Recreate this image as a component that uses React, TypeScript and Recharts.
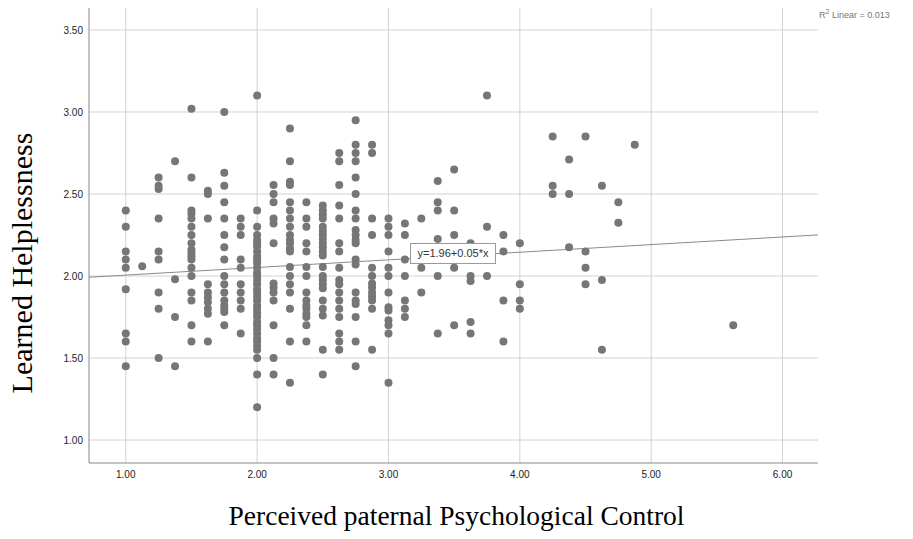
import React from "react";
import {
  ScatterChart,
  Scatter,
  XAxis,
  YAxis,
  CartesianGrid,
  ReferenceLine,
} from "recharts";

// Perceived paternal psychological control (x) columns and the Learned Helplessness values (y) read at each
const xColumns: number[] = [
  1.0, 1.125, 1.25, 1.375, 1.5, 1.625, 1.75, 1.875, 2.0, 2.125, 2.25, 2.375, 2.5, 2.625, 2.75, 2.875, 3.0,
  3.125, 3.25, 3.375, 3.5, 3.625, 3.75, 3.875, 4.0, 4.25, 4.375, 4.5, 4.625, 4.75, 4.875, 5.625,
];

const col100 = [2.4, 2.3, 2.15, 2.1, 2.05, 1.92, 1.65, 1.6, 1.45];
const col1125 = [2.06];
const col125 = [2.6, 2.55, 2.53, 2.35, 2.15, 2.1, 1.9, 1.8, 1.5];
const col1375 = [2.7, 1.98, 1.75, 1.45];
const col150 = [3.02, 2.6, 2.4, 2.38, 2.35, 2.3, 2.25, 2.2, 2.16, 2.14, 2.12, 2.1, 2.05, 2.0, 1.9, 1.85, 1.7, 1.6];
const col1625 = [2.52, 2.5, 2.35, 1.95, 1.9, 1.87, 1.84, 1.8, 1.77, 1.6];
const col175 = [3.0, 2.63, 2.55, 2.45, 2.35, 2.25, 2.175, 2.1, 2.0, 1.95, 1.9, 1.85, 1.82, 1.8, 1.78, 1.7];
const col1875 = [2.35, 2.3, 2.25, 2.1, 2.05, 1.95, 1.9, 1.85, 1.8, 1.65];
const col200 = [
  3.1, 2.4, 2.3, 2.25, 2.22, 2.2, 2.18, 2.15, 2.12, 2.1, 2.08, 2.05, 2.02, 2.0, 1.975, 1.95, 1.92, 1.9, 1.875,
  1.85, 1.82, 1.8, 1.775, 1.75, 1.72, 1.7, 1.675, 1.65, 1.62, 1.6, 1.575, 1.55, 1.5, 1.4, 1.2,
];
const col2125 = [2.555, 2.5, 2.45, 2.35, 2.32, 2.2, 1.955, 1.93, 1.9, 1.85, 1.7, 1.5, 1.4];
const col225 = [2.9, 2.7, 2.575, 2.555, 2.45, 2.4, 2.35, 2.3, 2.25, 2.22, 2.2, 2.17, 2.15, 2.055, 2.0, 1.95, 1.9, 1.8, 1.6, 1.35];
const col2375 = [2.45, 2.35, 2.3, 2.2, 2.15, 2.055, 2.0, 1.9, 1.85, 1.82, 1.8, 1.77, 1.75, 1.7, 1.6];
const col250 = [
  2.43, 2.4, 2.375, 2.35, 2.3, 2.275, 2.25, 2.225, 2.2, 2.175, 2.15, 2.125, 2.055, 2.0, 1.975, 1.95, 1.925, 1.85,
  1.8, 1.76, 1.55, 1.4,
];
const col2625 = [2.75, 2.7, 2.555, 2.43, 2.35, 2.2, 2.15, 2.05, 1.975, 1.95, 1.9, 1.85, 1.8, 1.75, 1.65, 1.6, 1.55];
const col275 = [2.95, 2.8, 2.75, 2.7, 2.6, 2.5, 2.4, 2.35, 2.28, 2.25, 2.22, 2.2, 2.1, 2.07, 1.9, 1.85, 1.83, 1.75, 1.6, 1.45];
const col2875 = [2.8, 2.75, 2.35, 2.25, 2.05, 2.0, 1.955, 1.93, 1.9, 1.875, 1.85, 1.8, 1.55];
const col300 = [2.35, 2.3, 2.25, 2.15, 2.05, 2.0, 1.9, 1.81, 1.79, 1.73, 1.7, 1.65, 1.35];
const col3125 = [2.32, 2.25, 2.1, 2.0, 1.85, 1.8, 1.75];
const col325 = [2.35, 2.05, 1.9];
const col3375 = [2.58, 2.45, 2.4, 2.225, 2.0, 1.65];
const col350 = [2.65, 2.4, 2.25, 2.05, 1.7];
const col3625 = [2.2, 2.0, 1.97, 1.72, 1.65];
const col375 = [3.1, 2.3, 2.0];
const col3875 = [2.25, 2.15, 1.85, 1.6];
const col400 = [2.2, 1.95, 1.85, 1.8];
const col425 = [2.85, 2.55, 2.5];
const col4375 = [2.71, 2.5, 2.175];
const col450 = [2.85, 2.15, 2.05, 1.95];
const col4625 = [2.55, 1.975, 1.55];
const col475 = [2.45, 2.325];
const col4875 = [2.8];
const col5625 = [1.7];

const yColumns: number[][] = [
  col100, col1125, col125, col1375, col150, col1625, col175, col1875, col200, col2125, col225, col2375, col250,
  col2625, col275, col2875, col300, col3125, col325, col3375, col350, col3625, col375, col3875, col400, col425,
  col4375, col450, col4625, col475, col4875, col5625,
];

const xTicks = [1, 2, 3, 4, 5, 6];
const yTicks = [1.0, 1.5, 2.0, 2.5, 3.0, 3.5];

const xDomain: [number, number] = [0.72, 6.27];
const yDomain: [number, number] = [0.86, 3.634];

// fitted line (unrounded coefficients; label shows rounded ones)
const intercept = 1.959;
const slope = 0.0465;
const fitLabel = "y=1.96+0.05*x";
const r2Value = "0.013";

const xTitle = "Perceived paternal Psychological Control";
const yTitle = "Learned Helplessness";

const points = xColumns.flatMap((x, i) => yColumns[i].map((y) => ({ x, y })));

const Dot = (props: any) => {
  const { cx, cy } = props;
  if (cx == null || cy == null) return null;
  return <circle cx={cx} cy={cy} r={4} fill="#767676" />;
};

const tickFont = {
  fontFamily: "'Liberation Sans Narrow', 'Arial Narrow', 'Liberation Sans', Arial, sans-serif",
  fontSize: 10,
  fill: "#222",
};

export default function App() {
  return (
    <div
      style={{
        position: "absolute",
        left: 0,
        top: 0,
        width: 913,
        height: 539,
        background: "#fff",
      }}
    >
      <ScatterChart
        width={913}
        height={539}
        margin={{ top: 8, right: 95, bottom: 46, left: 0 }}
      >
        <CartesianGrid
          stroke="#d2d2d2"
          strokeWidth={1}
          horizontalValues={yTicks}
          verticalValues={xTicks}
        />
        <XAxis
          type="number"
          dataKey="x"
          domain={xDomain}
          ticks={xTicks}
          tickFormatter={(v: number) => v.toFixed(2)}
          allowDataOverflow
          height={30}
          tickLine={false}
          tickSize={6}
          tickMargin={2}
          axisLine={{ stroke: "#888", strokeWidth: 1 }}
          tick={tickFont}
        />
        <YAxis
          type="number"
          dataKey="y"
          domain={yDomain}
          ticks={yTicks}
          tickFormatter={(v: number) => v.toFixed(2)}
          allowDataOverflow
          width={89}
          tickLine={false}
          tickSize={4}
          tickMargin={2}
          axisLine={{ stroke: "#888", strokeWidth: 1 }}
          tick={tickFont}
        />
        <ReferenceLine
          segment={[
            { x: xDomain[0], y: intercept + slope * xDomain[0] },
            { x: xDomain[1], y: intercept + slope * xDomain[1] },
          ]}
          stroke="#8a8a8a"
          strokeWidth={1}
          ifOverflow="visible"
        />
        <Scatter data={points} shape={<Dot />} isAnimationActive={false} />
      </ScatterChart>

      <div
        style={{
          position: "absolute",
          left: 410,
          top: 243,
          width: 86,
          height: 21,
          boxSizing: "border-box",
          border: "1px solid #9a9a9a",
          background: "#fff",
          fontFamily: "'Liberation Sans', Arial, sans-serif",
          fontSize: 11,
          color: "#333",
          lineHeight: "19px",
          textAlign: "center",
          whiteSpace: "nowrap",
        }}
      >
        {fitLabel}
      </div>

      <div
        style={{
          position: "absolute",
          left: 819,
          top: 8,
          fontFamily: "'Liberation Sans', Arial, sans-serif",
          fontSize: 9,
          color: "#777",
          whiteSpace: "nowrap",
        }}
      >
        R<sup style={{ fontSize: 7 }}>2</sup> Linear = {r2Value}
      </div>

      <div
        style={{
          position: "absolute",
          left: 0,
          width: 913,
          top: 500,
          textAlign: "center",
          fontFamily: "'Liberation Serif', 'Times New Roman', serif",
          fontSize: 27.5,
          color: "#000",
          whiteSpace: "nowrap",
        }}
      >
        {xTitle}
      </div>

      <div
        style={{
          position: "absolute",
          left: 22,
          top: 263,
          transform: "translate(-50%, -50%) rotate(-90deg)",
          fontFamily: "'Liberation Serif', 'Times New Roman', serif",
          fontSize: 30,
          color: "#000",
          whiteSpace: "nowrap",
        }}
      >
        {yTitle}
      </div>
    </div>
  );
}
